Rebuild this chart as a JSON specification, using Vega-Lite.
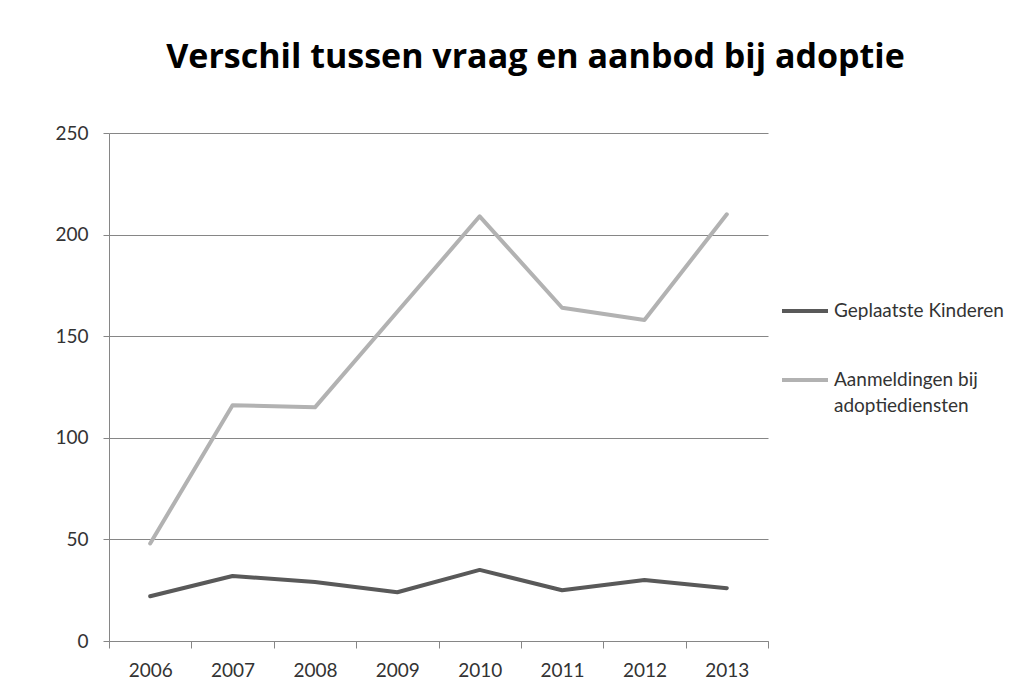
{
  "$schema": "https://vega.github.io/schema/vega-lite/v6.json",
  "width": 659,
  "height": 508,
  "autosize": "none",
  "padding": {"left": 109, "top": 133, "right": 265, "bottom": 57},
  "background": "white",
  "title": {
    "text": "Verschil tussen vraag en aanbod bij adoptie",
    "font": "Open Sans",
    "fontSize": 34,
    "fontWeight": "bold",
    "color": "black",
    "anchor": "middle",
    "frame": "group",
    "dx": 97,
    "offset": 49
  },
  "config": {
    "view": {"stroke": null},
    "font": "Lato"
  },
  "data": {
    "values": [
      {"year": "2006", "series": "Geplaatste Kinderen", "value": 22},
      {"year": "2007", "series": "Geplaatste Kinderen", "value": 32},
      {"year": "2008", "series": "Geplaatste Kinderen", "value": 29},
      {"year": "2009", "series": "Geplaatste Kinderen", "value": 24},
      {"year": "2010", "series": "Geplaatste Kinderen", "value": 35},
      {"year": "2011", "series": "Geplaatste Kinderen", "value": 25},
      {"year": "2012", "series": "Geplaatste Kinderen", "value": 30},
      {"year": "2013", "series": "Geplaatste Kinderen", "value": 26},
      {"year": "2006", "series": "Aanmeldingen bij adoptiediensten", "value": 48},
      {"year": "2007", "series": "Aanmeldingen bij adoptiediensten", "value": 116},
      {"year": "2008", "series": "Aanmeldingen bij adoptiediensten", "value": 115},
      {"year": "2009", "series": "Aanmeldingen bij adoptiediensten", "value": 162},
      {"year": "2010", "series": "Aanmeldingen bij adoptiediensten", "value": 209},
      {"year": "2011", "series": "Aanmeldingen bij adoptiediensten", "value": 164},
      {"year": "2012", "series": "Aanmeldingen bij adoptiediensten", "value": 158},
      {"year": "2013", "series": "Aanmeldingen bij adoptiediensten", "value": 210}
    ]
  },
  "mark": {"type": "line", "strokeWidth": 4, "strokeJoin": "round", "strokeCap": "round"},
  "encoding": {
    "x": {
      "field": "year",
      "type": "ordinal",
      "scale": {"type": "band", "paddingInner": 0, "paddingOuter": 0},
      "axis": {
        "title": null,
        "labelAngle": 0,
        "tickBand": "extent",
        "domainColor": "#868686",
        "tickColor": "#868686",
        "tickSize": 7,
        "labelPadding": 13,
        "labelFontSize": 19,
        "labelColor": "#333333",
        "labelFont": "Lato",
        "grid": false
      }
    },
    "y": {
      "field": "value",
      "type": "quantitative",
      "scale": {"domain": [0, 250], "nice": false, "zero": true},
      "axis": {
        "title": null,
        "values": [0, 50, 100, 150, 200, 250],
        "grid": true,
        "gridColor": "#868686",
        "gridWidth": 1,
        "domainColor": "#868686",
        "tickColor": "#868686",
        "tickSize": 6,
        "labelPadding": 15,
        "labelFontSize": 19,
        "labelColor": "#333333",
        "labelFont": "Lato"
      }
    },
    "color": {
      "field": "series",
      "type": "nominal",
      "scale": {
        "domain": ["Geplaatste Kinderen", "Aanmeldingen bij adoptiediensten"],
        "range": ["#595959", "#b2b2b2"]
      },
      "legend": {
        "title": null,
        "orient": "none",
        "legendX": 671,
        "legendY": 153,
        "padding": 0,
        "symbolType": "stroke",
        "symbolSize": 2116,
        "symbolStrokeWidth": 4,
        "labelOffset": 4,
        "labelFontSize": 19,
        "labelFont": "Lato",
        "labelColor": "#333333",
        "labelLimit": 300,
        "rowPadding": 34,
        "labelBaseline": "middle",
        "labelExpr": "datum.label == 'Aanmeldingen bij adoptiediensten' ? ['Aanmeldingen bij', 'adoptiediensten'] : datum.label",
        "encode": {"labels": {"update": {"lineHeight": {"value": 26}}}}
      }
    }
  }
}
